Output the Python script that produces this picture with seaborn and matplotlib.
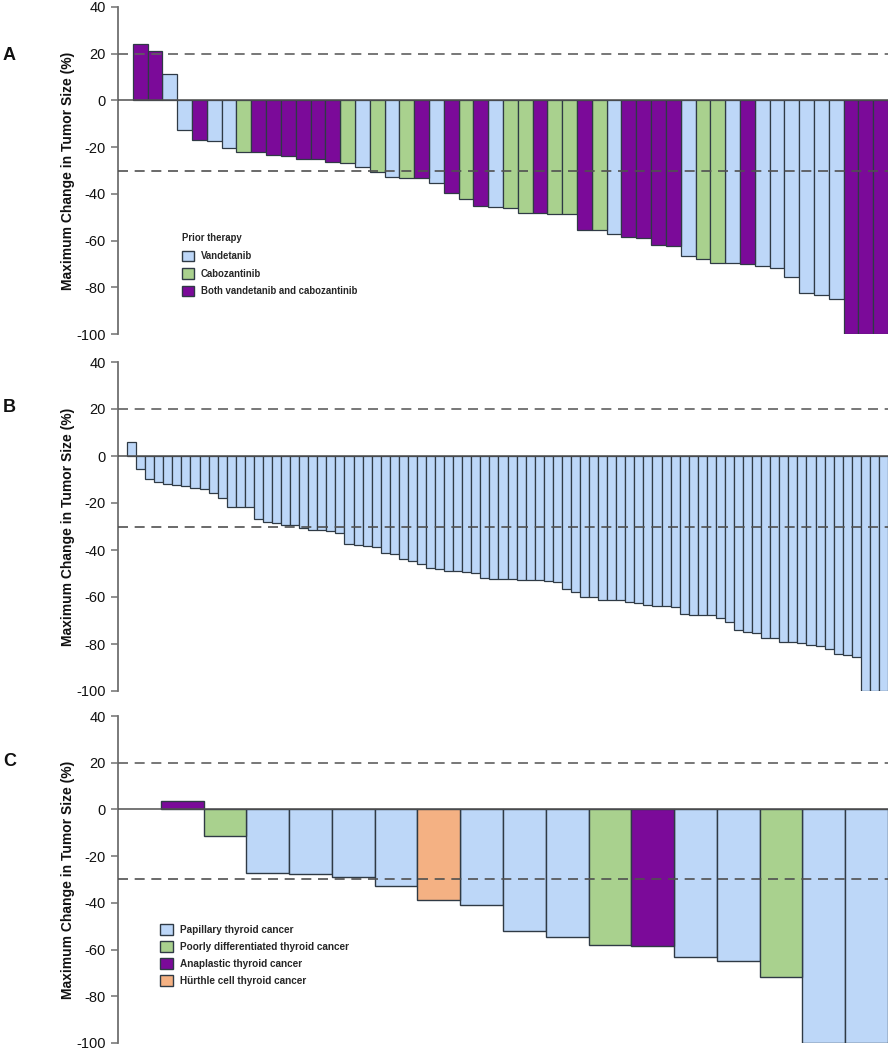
import numpy as np
import pandas as pd
import matplotlib
matplotlib.use("Agg")
import matplotlib.pyplot as plt
import seaborn as sns
from matplotlib.patches import Patch

sns.set_theme(style="white")
plt.rcParams['font.family'] = ['Liberation Sans', 'DejaVu Sans']

# ---------------- data ----------------
a_labels = ["Vandetanib", "Cabozantinib", "Both vandetanib and cabozantinib"]
a_values = [24, 21, 11.5, -12.5, -17, -17.5, -20.5, -22, -22.2, -23.4, -23.6,
            -25, -25, -26.4, -26.6, -28.6, -30.6, -32.9, -33.3, -33.2, -35.2,
            -39.6, -42.2, -45.4, -45.7, -46.2, -48, -48, -48.7, -48.7, -55.3,
            -55.3, -57.1, -58.4, -58.8, -62, -62.4, -66.8, -68.1, -69.4, -69.4,
            -70.1, -71.1, -71.8, -75.6, -82.5, -83.5, -85.2, -100, -100, -100]
a_groups = ["P", "P", "V", "V", "P", "V", "V", "C", "P", "P", "P",
            "P", "P", "P", "C", "V", "C", "V", "C", "P", "V",
            "P", "C", "P", "V", "C", "C", "P", "C", "C", "P",
            "C", "V", "P", "P", "P", "P", "V", "C", "C", "V",
            "P", "V", "V", "V", "V", "V", "V", "P", "P", "P"]

b_values = [6.1, -5.5, -9.8, -11.2, -12.1, -12.5, -12.9, -13.6, -14.2, -15.6,
            -18.0, -21.7, -21.7, -21.8, -26.7, -28.2, -28.7, -29.2, -29.5, -30.8,
            -31.3, -31.6, -32.1, -32.8, -37.3, -38.0, -38.2, -38.7, -41.1, -41.8,
            -43.8, -44.5, -45.8, -47.5, -48.1, -48.8, -49.1, -49.5, -49.8, -51.9,
            -52.2, -52.2, -52.5, -52.9, -52.9, -52.9, -53.2, -53.5, -56.7, -57.9,
            -59.9, -60.0, -61.3, -61.3, -61.3, -62.1, -62.4, -63.6, -63.7, -64.0,
            -64.1, -67.2, -67.5, -67.5, -67.8, -68.8, -70.8, -74.2, -74.8, -75.3,
            -77.3, -77.3, -79.1, -79.3, -79.7, -80.3, -81.0, -82.0, -84.1, -84.8,
            -85.5, -100, -100, -100]
b_groups = ["V"] * len(b_values)

c_labels = ["Papillary thyroid cancer", "Poorly differentiated thyroid cancer",
            "Anaplastic thyroid cancer", "Hürthle cell thyroid cancer"]
c_values = [3.8, -11.3, -27.4, -27.8, -28.8, -32.8, -38.8, -40.9, -51.9,
            -54.7, -57.9, -58.3, -63.2, -65.1, -71.8, -100, -100]
c_groups = ["ATC", "PDTC", "PTC", "PTC", "PTC", "PTC", "HCC", "PTC", "PTC",
            "PTC", "PDTC", "ATC", "PTC", "PTC", "PDTC", "PTC", "PTC"]

y_ticks = [40, 20, 0, -20, -40, -60, -80, -100]
ylabel = "Maximum Change in Tumor Size (%)"

# ---------------- style ----------------
LB = "#BDD7F8"
GR = "#A9D18E"
PU = "#7B0A99"
OR = "#F4B183"
EDGE = "#2F3A45"
a_pal = {"V": LB, "C": GR, "P": PU}
b_pal = {"V": LB}
c_pal = {"PTC": LB, "PDTC": GR, "ATC": PU, "HCC": OR}

fig = plt.figure(figsize=(8.96, 10.5), dpi=100)
L = 118 / 896
W = (888 - 118) / 896
def box(top, bot):
    return [L, 1 - bot / 1050, W, (bot - top) / 1050]

axA = fig.add_axes(box(7, 334))
axB = fig.add_axes(box(362, 691))
axC = fig.add_axes(box(716, 1043))


def panel(ax, values, groups, pal, order, lw):
    df = pd.DataFrame({"pos": np.arange(len(values)), "val": values, "grp": groups})
    sns.barplot(data=df, x="pos", y="val", hue="grp", hue_order=order,
                palette=pal, dodge=False, width=1.0, errorbar=None, saturation=1,
                edgecolor=EDGE, linewidth=lw, legend=False, ax=ax)
    n = len(values)
    ax.set_xlim(-1.5, n - 0.5)
    ax.set_ylim(-100, 40)
    ax.set_yticks(y_ticks)
    ax.set_yticklabels([str(t) for t in y_ticks], fontsize=10.5, color="#111111")
    ax.set_xticks([])
    ax.set_xlabel("")
    ax.set_ylabel(ylabel, fontsize=10, fontweight="bold", labelpad=1, color="#111111")
    for s in ["top", "right", "bottom"]:
        ax.spines[s].set_visible(False)
    ax.spines["left"].set_color("#707070")
    ax.spines["left"].set_linewidth(1.3)
    ax.tick_params(axis="y", which="major", direction="out", length=5, width=1.1,
                   color="#707070", left=True, pad=4)
    ax.axhline(20, color="#606060", lw=1.2, ls=(0, (6, 4)), zorder=5)
    ax.axhline(-30, color="#505050", lw=1.2, ls=(0, (6, 4)), zorder=5)
    ax.axhline(0, color="#505050", lw=1.1, zorder=5)
    ax.set_facecolor("white")


panel(axA, a_values, a_groups, a_pal, ["V", "C", "P"], 0.9)
panel(axB, b_values, b_groups, b_pal, ["V"], 0.9)
panel(axC, c_values, c_groups, c_pal, ["PTC", "PDTC", "ATC", "HCC"], 1.0)

# legends
hA = [Patch(facecolor=a_pal[k], edgecolor=EDGE, linewidth=1.0) for k in ["V", "C", "P"]]
legA = axA.legend(hA, a_labels, title="Prior therapy", loc="upper left",
                  bbox_to_anchor=(0.074, 0.328), frameon=False,
                  prop={"size": 6.9, "weight": "bold"},
                  title_fontproperties={"size": 6.9, "weight": "bold"},
                  handlelength=1.3, handleheight=1.3, handletextpad=0.7, labelspacing=0.75,
                  borderpad=0.2)
legA._legend_box.align = "left"

hC = [Patch(facecolor=c_pal[k], edgecolor=EDGE, linewidth=1.0) for k in ["PTC", "PDTC", "ATC", "HCC"]]
axC.legend(hC, c_labels, loc="upper left", bbox_to_anchor=(0.046, 0.386), frameon=False,
           prop={"size": 7.2, "weight": "bold"}, handlelength=1.3, handleheight=1.3,
           handletextpad=0.7, labelspacing=0.62, borderpad=0.2)

for letter, yy in [("A", 55), ("B", 408), ("C", 762)]:
    fig.text(3 / 896, 1 - yy / 1050, letter, fontsize=13, fontweight="bold",
             va="center", ha="left", color="#111111")

fig.savefig("out.png", dpi=100, facecolor="white")
